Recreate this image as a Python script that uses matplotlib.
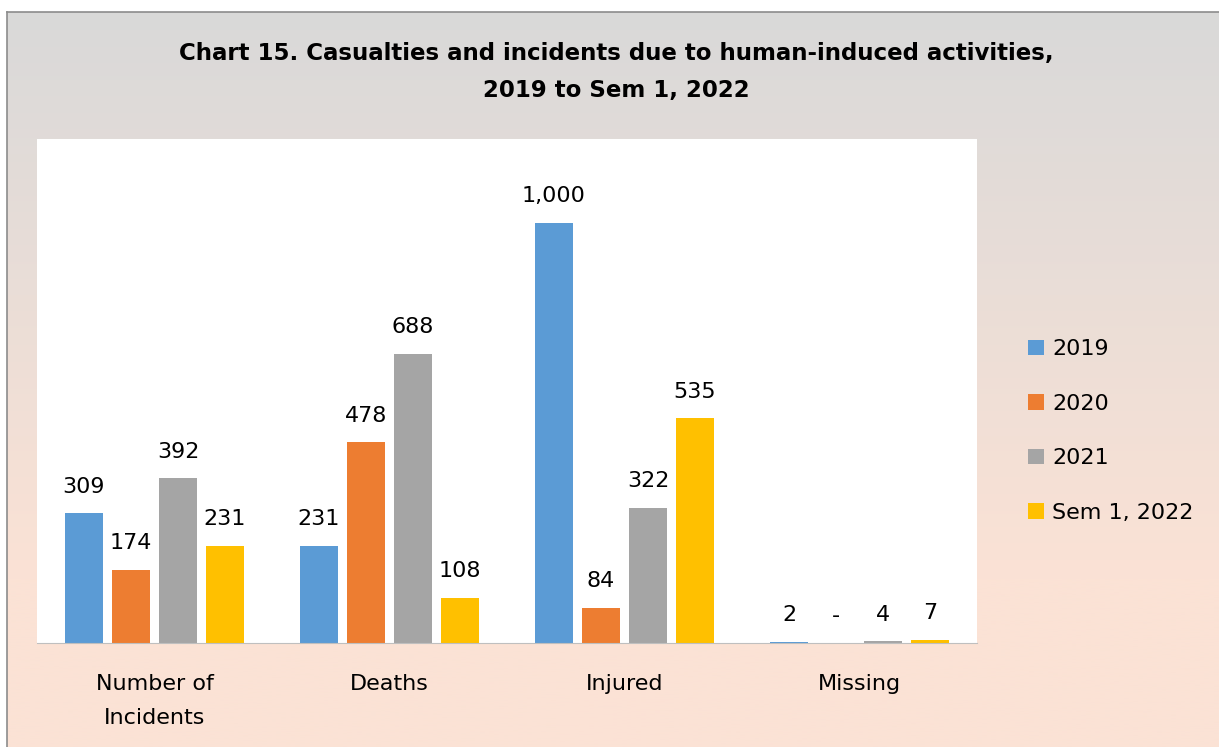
import numpy as np
import matplotlib.pyplot as plt

categories = ['Number of\nIncidents', 'Deaths', 'Injured', 'Missing']
series = ['2019', '2020', '2021', 'Sem 1, 2022']
values = {
    '2019': [309, 231, 1000, 2],
    '2020': [174, 478, 84, 0],
    '2021': [392, 688, 322, 4],
    'Sem 1, 2022': [231, 108, 535, 7],
}
colors = ['#5b9bd5', '#ed7d31', '#a5a5a5', '#ffc000']

W, H = 1219, 747
fig = plt.figure(figsize=(W / 100, H / 100), dpi=100)
fig.patch.set_facecolor('white')

# gradient background (grey top -> peach bottom)
bg = fig.add_axes([7 / W, 0, 1 - 7 / W, 1 - 12 / H])
top = np.array([217, 217, 217]) / 255
bot = np.array([251, 226, 213]) / 255
t = np.linspace(0, 1, 256)[:, None]
grad = top + (bot - top) * np.clip(t * 1.3, 0, 1)
bg.imshow(grad[:, None, :], aspect='auto', extent=[0, 1, 0, 1])
bg.set_xticks([])
bg.set_yticks([])
for s in ['right', 'bottom']:
    bg.spines[s].set_visible(False)
for s in ['top', 'left']:
    bg.spines[s].set_color('#8c8c8c')
    bg.spines[s].set_linewidth(1.2)

ax = fig.add_axes([37 / W, 1 - 643 / H, 940 / W, 504 / H])
ax.set_facecolor('white')

x = np.arange(len(categories))
width = 0.16
pitch = 0.2
for i, name in enumerate(series):
    pos = x + (i - 1.5) * pitch
    bars = ax.bar(pos, values[name], width, color=colors[i], label=name)
    labels = [f'{v:,}' if v > 0 else '-' for v in values[name]]
    ax.bar_label(bars, labels=labels, padding=12, fontsize=16)

ax.set_xlim(-0.5, 3.5)
ax.set_ylim(0, 1200)
ax.set_yticks([])
ax.set_xticks(x)
ax.set_xticklabels(categories, fontsize=16, linespacing=1.9)
ax.tick_params(axis='x', length=0, pad=22)
for s in ['top', 'right', 'left']:
    ax.spines[s].set_visible(False)
ax.spines['bottom'].set_color('#bfbfbf')

fig.text(616 / W, 1 - 72 / H,
         'Chart 15. Casualties and incidents due to human-induced activities,\n2019 to Sem 1, 2022',
         ha='center', va='center', fontsize=16.5, fontweight='bold', linespacing=1.8)

fig.legend(loc='center left', bbox_to_anchor=(1008 / W, 1 - 431 / H), frameon=False,
           fontsize=16, handlelength=0.7, handleheight=0.7, handletextpad=0.4,
           labelspacing=1.55)

fig.savefig('out.png', dpi=100)
